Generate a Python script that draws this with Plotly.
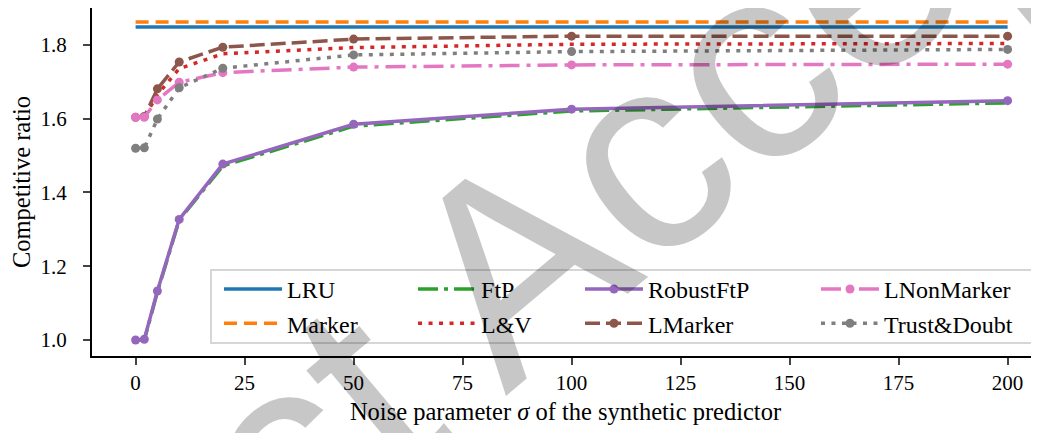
import plotly.graph_objects as go

# Datos
sigma = [0, 2, 5, 10, 20, 50, 100, 200]
lru = [1.849, 1.849, 1.849, 1.849, 1.849, 1.849, 1.849, 1.849]
marker = [1.862, 1.862, 1.862, 1.862, 1.862, 1.862, 1.862, 1.862]
ftp = [1.000, 1.000, 1.130, 1.325, 1.472, 1.580, 1.621, 1.643]
lv = [1.604, 1.604, 1.665, 1.736, 1.776, 1.793, 1.802, 1.804]
robust_ftp = [1.000, 1.002, 1.133, 1.327, 1.477, 1.585, 1.626, 1.649]
lmarker = [1.604, 1.606, 1.681, 1.754, 1.794, 1.816, 1.824, 1.824]
lnonmarker = [1.604, 1.604, 1.651, 1.699, 1.725, 1.740, 1.746, 1.748]
trust_doubt = [1.520, 1.521, 1.599, 1.684, 1.737, 1.773, 1.782, 1.788]

x_ticks = [0, 25, 50, 75, 100, 125, 150, 175, 200]
y_ticks = [1.0, 1.2, 1.4, 1.6, 1.8]

SERIF = "Liberation Serif"

# (nombre, datos, color, estilo, marcadores, columna de la leyenda)
series = [
    ("LRU", lru, "#1f77b4", "solid", False, "legend"),
    ("Marker", marker, "#ff7f0e", "13px,7px", False, "legend"),
    ("FtP", ftp, "#2ca02c", "20px,6px,4px,6px", False, "legend2"),
    ("L&V", lv, "#d62728", "4px,6.5px", False, "legend2"),
    ("RobustFtP", robust_ftp, "#9467bd", "solid", True, "legend3"),
    ("LMarker", lmarker, "#8c564b", "15px,6px", True, "legend3"),
    ("LNonMarker", lnonmarker, "#e377c2", "20px,7px,4px,7px", True, "legend4"),
    ("Trust&Doubt", trust_doubt, "#7f7f7f", "4px,6.5px", True, "legend4"),
]

fig = go.Figure()

for name, values, color, dash, with_markers, legend_id in series:
    fig.add_trace(go.Scatter(
        x=sigma,
        y=values,
        name=name,
        mode="lines+markers" if with_markers else "lines",
        line=dict(color=color, width=3.5, dash=dash),
        marker=dict(color=color, size=9),
        legend=legend_id,
    ))


def legend_column(x):
    return dict(
        orientation="v",
        x=x,
        y=0.2560,
        xanchor="left",
        yanchor="top",
        itemwidth=58,
        bgcolor="rgba(0,0,0,0)",
        borderwidth=0,
        font=dict(family=SERIF, size=24, color="black"),
        tracegroupgap=0,
    )


# La página añade 8 px de margen, así que la figura es algo menor
fig.update_layout(
    width=1031,
    height=425,
    margin=dict(l=84, r=0, t=0, b=77),
    plot_bgcolor="white",
    paper_bgcolor="white",
    font=dict(family=SERIF, size=24, color="black"),
    showlegend=True,
    legend=legend_column(0.1341),
    legend2=legend_column(0.3390),
    legend3=legend_column(0.5153),
    legend4=legend_column(0.7645),
    xaxis=dict(
        range=[-10, 207.2],
        tickvals=x_ticks,
        ticks="outside",
        ticklen=7,
        tickwidth=1.5,
        showline=True,
        linecolor="black",
        linewidth=2,
        mirror=True,
        showgrid=False,
        zeroline=False,
        automargin=False,
        tickfont=dict(family=SERIF, size=21, color="black"),
        title=dict(
            text="Noise parameter <i>σ</i> of the synthetic predictor",
            font=dict(family=SERIF, size=24.5, color="black"),
            standoff=9,
        ),
    ),
    yaxis=dict(
        range=[0.9566, 1.9003],
        tickvals=y_ticks,
        tickformat=".1f",
        ticks="outside",
        ticklen=7,
        tickwidth=1.5,
        showline=True,
        linecolor="black",
        linewidth=2,
        showgrid=False,
        zeroline=False,
        automargin=False,
        tickfont=dict(family=SERIF, size=21, color="black"),
        ticklabelstandoff=12,
        title=dict(
            text="Competitive ratio",
            font=dict(family=SERIF, size=24.5, color="black"),
            standoff=14,
        ),
    ),
)

# Marco común de la leyenda
fig.add_shape(
    type="rect",
    xref="paper",
    yref="paper",
    x0=0.1257,
    x1=0.9937,
    y0=0.0374,
    y1=0.2471,
    line=dict(color="#d6d6d6", width=2),
    fillcolor="rgba(255,255,255,0.8)",
    layer="above",
)

# Marca de agua en diagonal
fig.add_annotation(
    text="Artifact Accepted",
    xref="paper",
    yref="paper",
    x=0.4657,
    y=0.3103,
    xanchor="center",
    yanchor="middle",
    textangle=-40,
    showarrow=False,
    font=dict(family="Liberation Sans", size=280, color="rgba(0,0,0,0.22)"),
)

fig.write_html("out.html")
